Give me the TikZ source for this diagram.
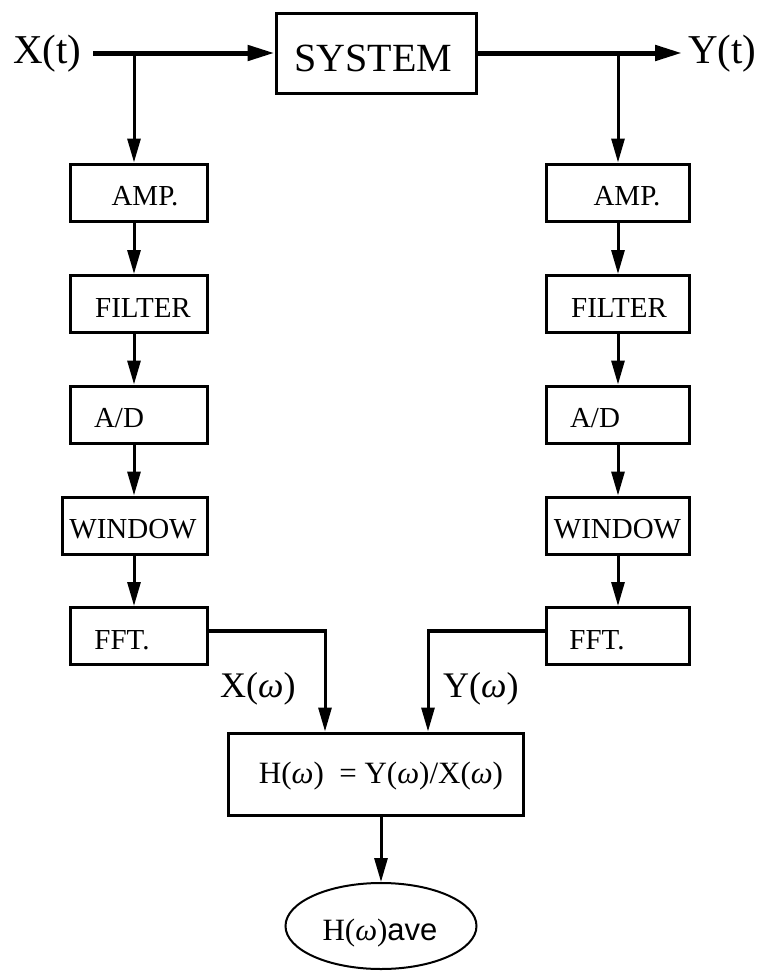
\documentclass[tikz,border=0pt]{standalone}
\usepackage{fontspec}
\setmainfont{Liberation Serif}
\newfontfamily\arialfont{Liberation Sans}
\usetikzlibrary{arrows.meta,shapes.geometric}
\tikzset{
  box/.style={draw, line width=3pt, rectangle, inner sep=0pt, minimum height=57pt},
  lbox/.style={box, minimum width=137pt},
  rbox/.style={box, minimum width=143pt},
  txt/.style={inner sep=0pt, text height=19.2pt, text depth=0pt, font=\fontsize{29pt}{29pt}\selectfont},
  big/.style={anchor=base west, inner sep=0pt, font=\fontsize{41pt}{41pt}\selectfont},
  mid/.style={anchor=base west, inner sep=0pt, font=\fontsize{36pt}{36pt}\selectfont},
  harrow/.style={line width=5pt, -{Triangle[length=27pt,width=15pt]}},
  varrow/.style={line width=3pt, -{Triangle[length=24pt,width=13pt]}},
  fline/.style={line width=4pt},
}
\newcommand{\om}{{\itshape ω}}
\begin{document}
\begin{tikzpicture}[x=1pt,y=-1pt]
\useasboundingbox[fill=white] (0,0) rectangle (757,972);
% top row
\node[big] (xt) at (13,63) {X(t)};
\node[box, minimum width=200pt, minimum height=80pt,
  label={[inner sep=0pt, text height=26.5pt, text depth=0pt, font=\fontsize{40pt}{40pt}\selectfont, xshift=-2.5pt, yshift=-5.5pt]center:SYSTEM}] (sys) at (376,53) {};
\node[big] (yt) at (688,63) {Y(t)};
\coordinate (xs) at (93,53);
\coordinate (bx) at (134,53);
\coordinate (ye) at (682,53);
\coordinate (by) at (618,53);
% left column
\node[lbox, label={[txt, xshift=6.5pt, yshift=-3.5pt]center:AMP.}] (la) at (138.5,192.5) {};
\node[lbox, label={[txt, xshift=4.5pt, yshift=-3.5pt]center:FILTER}] (lf) at (138.5,304) {};
\node[lbox, label={[txt, xshift=-19.5pt, yshift=-3.5pt]center:A/D}] (ld) at (138.5,414.5) {};
\node[box, minimum width=145pt, label={[txt, xshift=-1.5pt, yshift=-3.5pt]center:WINDOW}] (lw) at (134.5,525.5) {};
\node[lbox, label={[txt, xshift=-16.5pt, yshift=-3.5pt]center:FFT.}] (lt) at (138.5,636) {};
% right column
\node[rbox, label={[txt, xshift=9.5pt, yshift=-3.5pt]center:AMP.}] (ra) at (617.5,192.5) {};
\node[rbox, label={[txt, xshift=1.5pt, yshift=-3.5pt]center:FILTER}] (rf) at (617.5,304) {};
\node[rbox, label={[txt, xshift=-22.5pt, yshift=-3.5pt]center:A/D}] (rd) at (617.5,414.5) {};
\node[rbox, label={[txt, xshift=0pt, yshift=-3.5pt]center:WINDOW}] (rw) at (617.5,525.5) {};
\node[rbox, label={[txt, xshift=-20.5pt, yshift=-3.5pt]center:FFT.}] (rt) at (617.5,636) {};
% H box and ellipse
\node[box, minimum width=295pt, minimum height=82pt,
  label={[inner sep=0pt, text height=20.5pt, text depth=0pt, font=\fontsize{31pt}{31pt}\selectfont, xshift=5.5pt, yshift=1pt]center:H(\om)\ \ = Y(\om)/X(\om)}] (h) at (375.5,774) {};
\node[draw, ellipse, line width=2pt, minimum width=191pt, minimum height=86pt, inner sep=0pt,
  label={[inner sep=0pt, text height=20.5pt, text depth=0pt, font=\fontsize{31pt}{31pt}\selectfont, xshift=-1pt, yshift=-4pt]center:H(\om){\arialfont ave}}] (e) at (381,926) {};
\coordinate (xc) at (325,631);
\coordinate (yc) at (428,631);
\node[mid] (xw) at (220,697) {X(\om)};
\node[mid] (yw) at (443,697) {Y(\om)};
% connectors
\draw[harrow] (xs) -- (sys.west);
\draw[harrow] (sys.east) -- (ye);
\draw[varrow] (bx) -- (bx |- la.north);
\draw[varrow] (by) -- (by |- ra.north);
\draw[varrow] (bx |- la.south) -- (bx |- lf.north);
\draw[varrow] (bx |- lf.south) -- (bx |- ld.north);
\draw[varrow] (bx |- ld.south) -- (bx |- lw.north);
\draw[varrow] (bx |- lw.south) -- (bx |- lt.north);
\draw[varrow] (by |- ra.south) -- (by |- rf.north);
\draw[varrow] (by |- rf.south) -- (by |- rd.north);
\draw[varrow] (by |- rd.south) -- (by |- rw.north);
\draw[varrow] (by |- rw.south) -- (by |- rt.north);
\draw[fline] ([yshift=5pt]lt.east) -- ([xshift=1.5pt]xc);
\draw[varrow] ([yshift=-2pt]xc) -- (xc |- h.north);
\draw[fline] ([yshift=5pt]rt.west) -- ([xshift=-1.5pt]yc);
\draw[varrow] ([yshift=-2pt]yc) -- (yc |- h.north);
\draw[varrow] (h.south -| e.north) -- (e.north);
\end{tikzpicture}
\end{document}
